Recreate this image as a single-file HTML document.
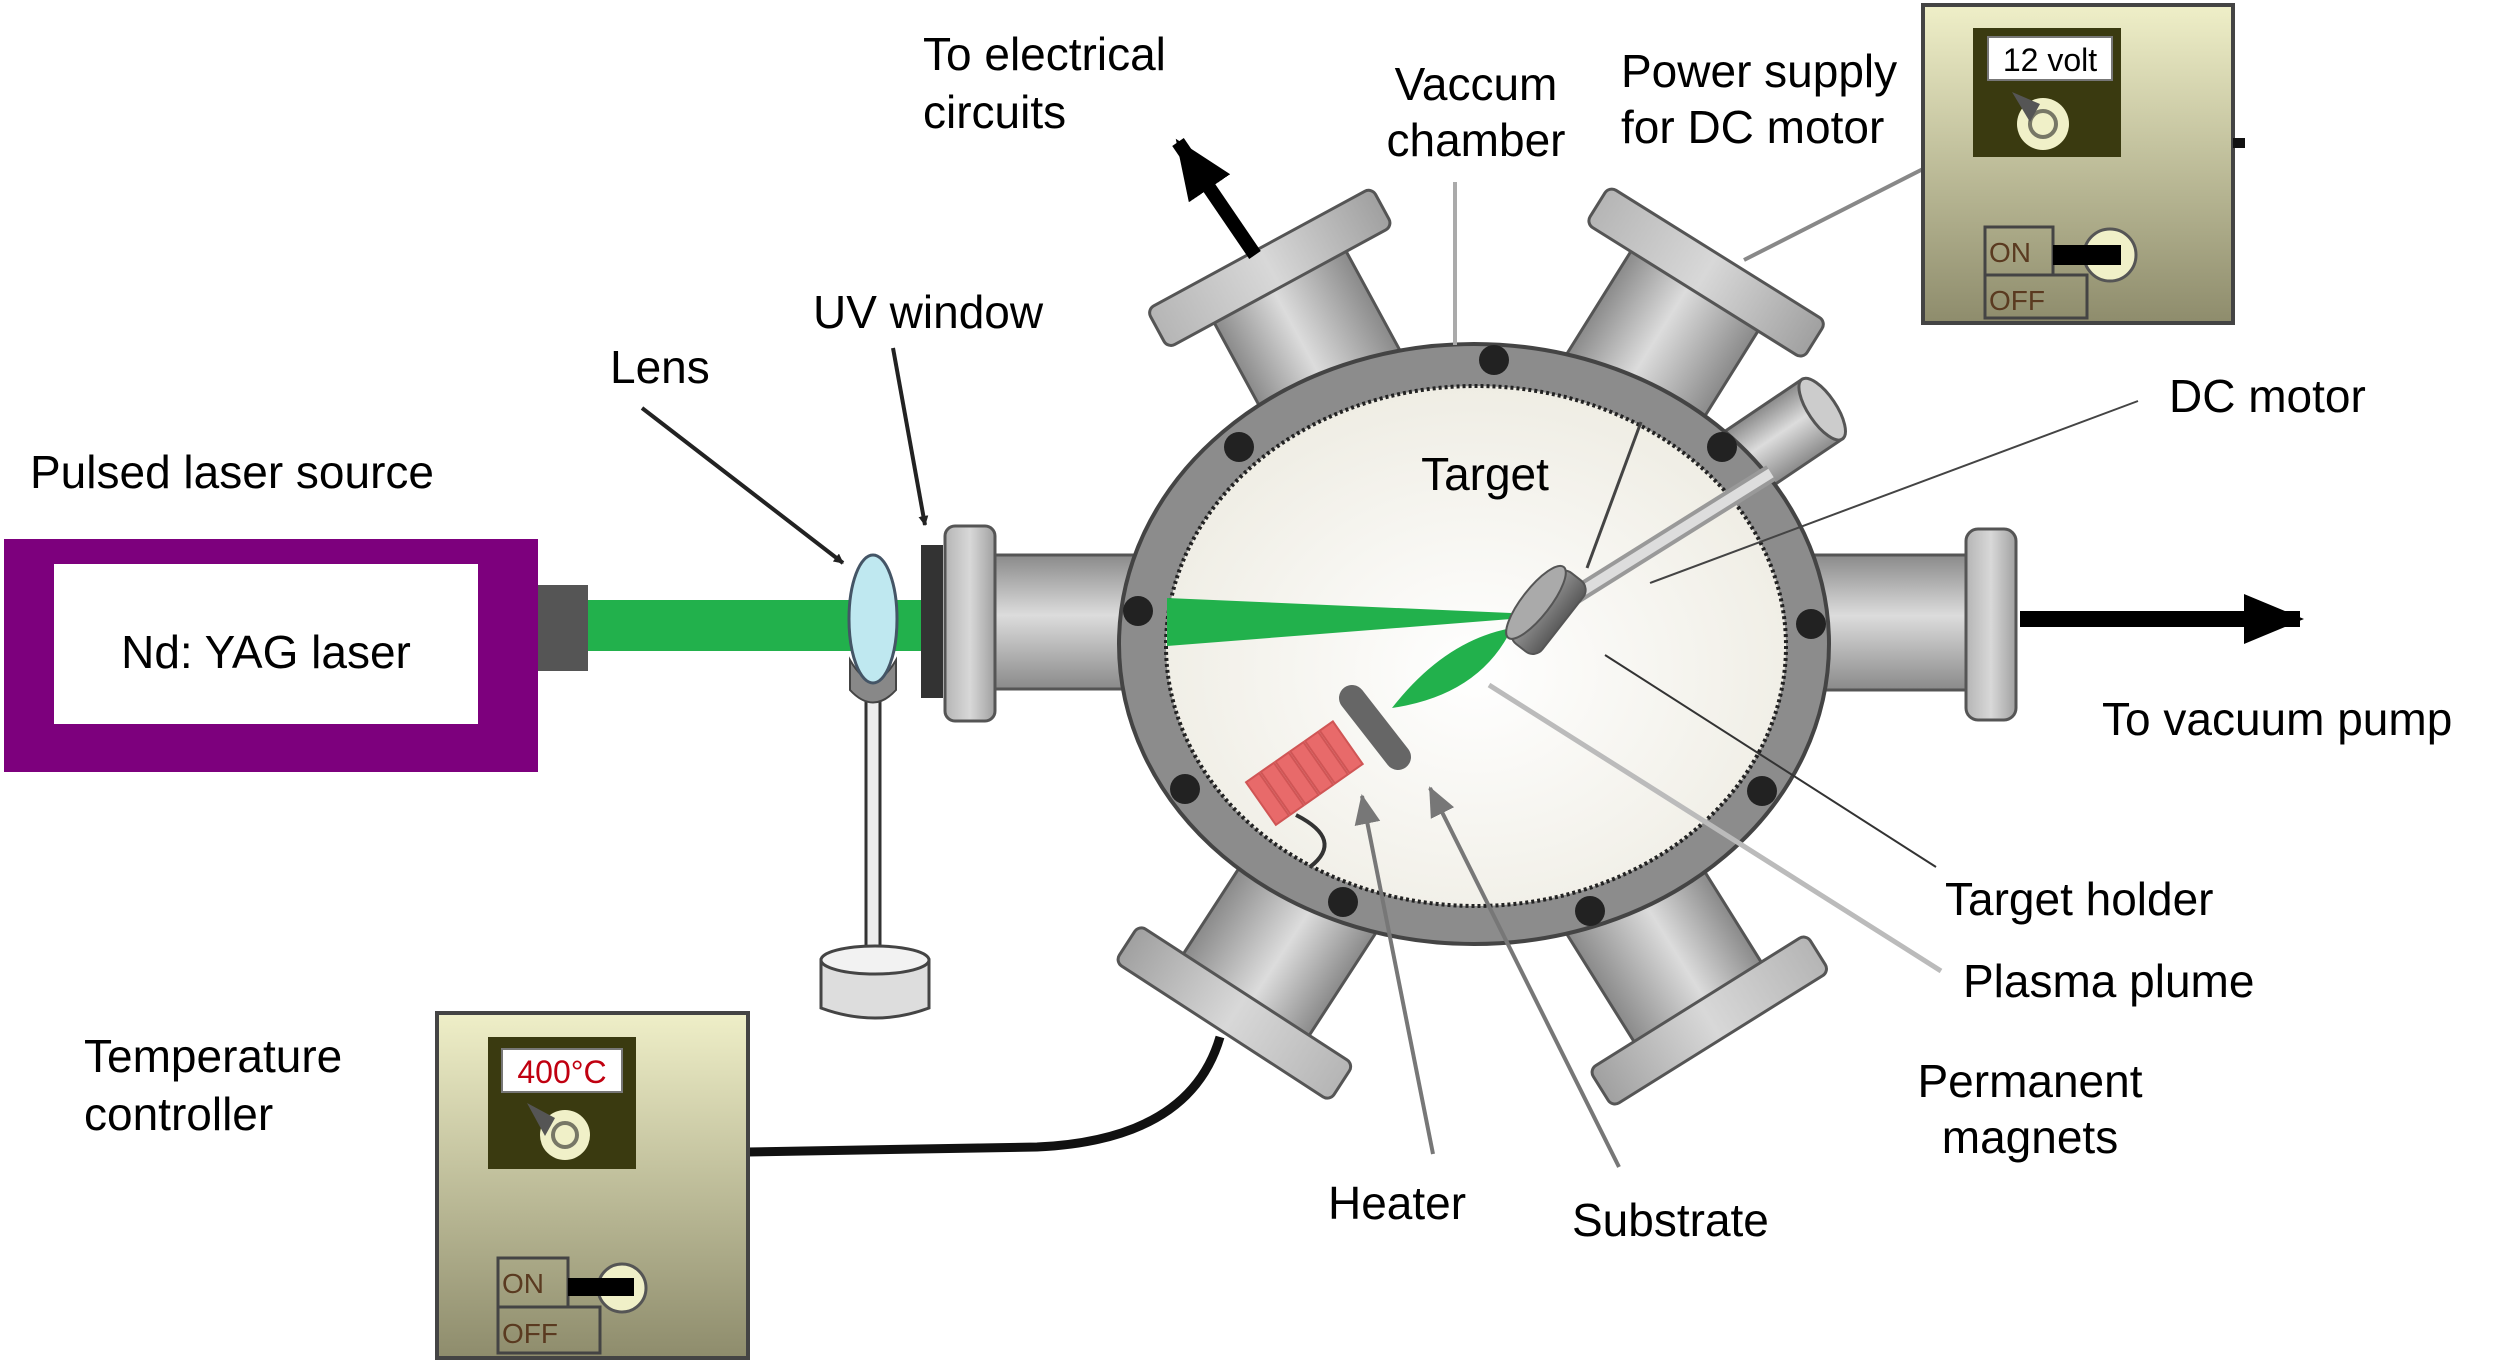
<!DOCTYPE html>
<html><head><meta charset="utf-8"><style>
html,body{margin:0;padding:0;background:#fff;}
svg{display:block;}
text{font-family:"Liberation Sans",Arial,sans-serif;fill:#000;}
</style></head><body>
<svg width="2502" height="1360" viewBox="0 0 2502 1360" xmlns="http://www.w3.org/2000/svg">
<defs>
<linearGradient id="tube" x1="0" x2="1" y1="0" y2="0">
<stop offset="0" stop-color="#8a8a8a"/><stop offset="0.45" stop-color="#dcdcdc"/><stop offset="1" stop-color="#8a8a8a"/></linearGradient>
<linearGradient id="tubeH" x1="0" x2="0" y1="0" y2="1">
<stop offset="0" stop-color="#8a8a8a"/><stop offset="0.45" stop-color="#dcdcdc"/><stop offset="1" stop-color="#8a8a8a"/></linearGradient>
<linearGradient id="fl" x1="0" x2="1"><stop offset="0" stop-color="#b5b5b5"/><stop offset="0.5" stop-color="#d8d8d8"/><stop offset="1" stop-color="#a0a0a0"/></linearGradient>
<radialGradient id="inner" cx="0.5" cy="0.55" r="0.55"><stop offset="0" stop-color="#ffffff"/><stop offset="1" stop-color="#efede4"/></radialGradient>
<linearGradient id="box" x1="0" x2="0" y1="0" y2="1"><stop offset="0" stop-color="#efefc8"/><stop offset="1" stop-color="#8e8c6c"/></linearGradient>
<linearGradient id="disk" x1="0" x2="1"><stop offset="0" stop-color="#9a9a9a"/><stop offset="1" stop-color="#5a5a5a"/></linearGradient>
<marker id="ah" markerWidth="10" markerHeight="10" refX="9" refY="5" orient="auto" markerUnits="userSpaceOnUse" viewBox="0 0 10 10"><path d="M0,0 L10,5 L0,10z" fill="#222"/></marker>
<marker id="ahg" markerWidth="30" markerHeight="30" refX="28" refY="15" orient="auto" markerUnits="userSpaceOnUse" viewBox="0 0 30 30"><path d="M0,2 L30,15 L0,28z" fill="#777"/></marker>
<marker id="ahb" markerWidth="60" markerHeight="50" refX="56" refY="25" orient="auto" markerUnits="userSpaceOnUse" viewBox="0 0 60 50"><path d="M0,0 L60,25 L0,50z" fill="#000"/></marker>
</defs>

<!-- laser -->
<rect x="4" y="539" width="534" height="233" fill="#7d007d"/>
<rect x="54" y="564" width="424" height="160" fill="#fff"/>
<text x="266" y="668" font-size="46" text-anchor="middle">Nd: YAG laser</text>
<rect x="538" y="585" width="50" height="86" fill="#555"/>
<rect x="588" y="600" width="345" height="51" fill="#22b14c"/>

<!-- lens stand -->
<rect x="866" y="680" width="14" height="280" fill="#eee" stroke="#333" stroke-width="3"/>
<path d="M850,660 Q873,700 896,660 L896,690 Q873,715 850,690z" fill="#888" stroke="#444" stroke-width="2"/>
<path d="M821,960 L821,1008 Q875,1028 929,1008 L929,960z" fill="#ddd" stroke="#444" stroke-width="3"/>
<ellipse cx="875" cy="960" rx="54" ry="14" fill="#f2f2f2" stroke="#444" stroke-width="3"/>
<ellipse cx="873" cy="619" rx="24" ry="64" fill="#bfe8f0" stroke="#456" stroke-width="3"/>

<!-- left port -->
<rect x="993" y="555" width="170" height="134" fill="url(#tubeH)" stroke="#555" stroke-width="3"/>
<rect x="945" y="526" width="50" height="195" rx="10" fill="url(#fl)" stroke="#555" stroke-width="3"/>
<rect x="921" y="545" width="22" height="153" fill="#333"/>
<!-- right port -->
<rect x="1790" y="555" width="180" height="135" fill="url(#tubeH)" stroke="#555" stroke-width="3"/>
<rect x="1966" y="529" width="50" height="191" rx="12" fill="url(#fl)" stroke="#555" stroke-width="3"/>
<line x1="2020" y1="619" x2="2300" y2="619" stroke="#000" stroke-width="16" marker-end="url(#ahb)"/>

<!-- angled ports -->
<g transform="translate(1474,644) rotate(-28.5)">
<rect x="-75" y="-410" width="150" height="300" fill="url(#tube)" stroke="#555" stroke-width="3"/>
<rect x="-128" y="-450" width="256" height="44" rx="8" fill="url(#fl)" stroke="#555" stroke-width="3"/></g>
<g transform="translate(1474,644) rotate(32)">
<rect x="-75" y="-420" width="150" height="300" fill="url(#tube)" stroke="#555" stroke-width="3"/>
<rect x="-128" y="-460" width="256" height="44" rx="8" fill="url(#fl)" stroke="#555" stroke-width="3"/></g>
<g transform="translate(1474,644) rotate(-147)">
<rect x="-75" y="-420" width="150" height="300" fill="url(#tube)" stroke="#555" stroke-width="3"/>
<rect x="-128" y="-462" width="256" height="44" rx="8" fill="url(#fl)" stroke="#555" stroke-width="3"/></g>
<g transform="translate(1474,644) rotate(148)">
<rect x="-75" y="-425" width="150" height="300" fill="url(#tube)" stroke="#555" stroke-width="3"/>
<rect x="-128" y="-466" width="256" height="44" rx="8" fill="url(#fl)" stroke="#555" stroke-width="3"/></g>
<g transform="translate(1474,644) rotate(56)">
<rect x="-36" y="-420" width="72" height="150" fill="url(#tube)" stroke="#555" stroke-width="3"/>
<ellipse cx="0" cy="-420" rx="36" ry="14" fill="#ccc" stroke="#555" stroke-width="3"/></g>

<!-- electrical arrow -->
<line x1="1255" y1="255" x2="1178" y2="142" stroke="#000" stroke-width="14" marker-end="url(#ahb)"/>

<!-- chamber -->
<ellipse cx="1474" cy="644" rx="355" ry="300" fill="#8c8c8c" stroke="#444" stroke-width="4"/>
<ellipse cx="1476" cy="646" rx="310" ry="260" fill="url(#inner)" stroke="#222" stroke-width="4" stroke-dasharray="3 3"/>
<g fill="#222">
<circle cx="1494" cy="360" r="15"/><circle cx="1239" cy="447" r="15"/><circle cx="1722" cy="447" r="15"/>
<circle cx="1138" cy="611" r="15"/><circle cx="1811" cy="624" r="15"/><circle cx="1185" cy="789" r="15"/>
<circle cx="1762" cy="791" r="15"/><circle cx="1343" cy="902" r="15"/><circle cx="1590" cy="911" r="15"/></g>

<!-- inner parts -->
<path d="M1167,598 L1511,613 L1511,619 L1167,646z" fill="#22b14c"/>
<path d="M1392,708 Q1445,640 1512,628 Q1480,695 1392,708z" fill="#22b14c"/>
<line x1="1560" y1="605" x2="1771" y2="473" stroke="#999" stroke-width="18"/>
<line x1="1560" y1="605" x2="1771" y2="473" stroke="#ddd" stroke-width="10"/>
<g transform="translate(1547,611) rotate(38)">
<rect x="-16" y="-45" width="36" height="90" rx="12" fill="url(#disk)" stroke="#555" stroke-width="2"/>
<ellipse cx="-14" cy="0" rx="14" ry="45" fill="#aaa" stroke="#555" stroke-width="2"/></g>
<line x1="1352" y1="698" x2="1398" y2="757" stroke="#666" stroke-width="26" stroke-linecap="round"/>
<g transform="translate(1306,772) rotate(-35)" fill="#e86a6a" stroke="#d05555" stroke-width="2">
<rect x="-55" y="-26" width="16" height="52"/><rect x="-37" y="-26" width="16" height="52"/><rect x="-19" y="-26" width="16" height="52"/><rect x="-1" y="-26" width="16" height="52"/><rect x="17" y="-26" width="16" height="52"/><rect x="35" y="-26" width="16" height="52"/></g>
<path d="M1296,815 Q1345,840 1310,867" fill="none" stroke="#333" stroke-width="4"/>

<!-- pointer lines -->
<line x1="1455" y1="182" x2="1455" y2="345" stroke="#aaa" stroke-width="4"/>
<line x1="1923" y1="169" x2="1744" y2="260" stroke="#888" stroke-width="4"/>
<line x1="2138" y1="401" x2="1650" y2="583" stroke="#444" stroke-width="2"/>
<line x1="1641" y1="422" x2="1587" y2="568" stroke="#444" stroke-width="3"/>
<line x1="1936" y1="867" x2="1605" y2="655" stroke="#333" stroke-width="2"/>
<line x1="1941" y1="971" x2="1489" y2="685" stroke="#bbb" stroke-width="5"/>
<line x1="1433" y1="1154" x2="1362" y2="796" stroke="#777" stroke-width="4" marker-end="url(#ahg)"/>
<line x1="1619" y1="1167" x2="1430" y2="788" stroke="#777" stroke-width="4" marker-end="url(#ahg)"/>
<line x1="642" y1="408" x2="843" y2="563" stroke="#222" stroke-width="4" marker-end="url(#ah)"/>
<line x1="893" y1="348" x2="925" y2="525" stroke="#222" stroke-width="4" marker-end="url(#ah)"/>

<!-- power supply -->
<rect x="1923" y="5" width="310" height="318" fill="url(#box)" stroke="#444" stroke-width="4"/>
<rect x="2233" y="138" width="12" height="10" fill="#111"/>
<rect x="1973" y="28" width="148" height="129" fill="#3a3a10"/>
<rect x="1988" y="37" width="124" height="43" fill="#fff" stroke="#777" stroke-width="2"/>
<text x="2050" y="71" font-size="32" text-anchor="middle">12 volt</text>
<circle cx="2043" cy="124" r="26" fill="#f0f0c8"/><circle cx="2043" cy="124" r="13" fill="none" stroke="#776" stroke-width="4"/>
<path d="M2012,92 L2040,104 L2030,122z" fill="#555"/>
<rect x="1985" y="227" width="68" height="48" fill="none" stroke="#444" stroke-width="3"/>
<rect x="1985" y="275" width="102" height="43" fill="none" stroke="#444" stroke-width="3"/>
<text x="1989" y="262" font-size="28" style="fill:#5a3a20">ON</text>
<text x="1989" y="310" font-size="28" style="fill:#5a3a20">OFF</text>
<circle cx="2110" cy="255" r="26" fill="#f0f0c8" stroke="#555" stroke-width="3"/>
<rect x="2053" y="245" width="68" height="20" fill="#000"/>

<!-- temperature controller -->
<path d="M748,1152 L1037,1147 Q1190,1140 1220,1037" fill="none" stroke="#111" stroke-width="9"/>
<rect x="437" y="1013" width="311" height="345" fill="url(#box)" stroke="#444" stroke-width="4"/>
<rect x="488" y="1037" width="148" height="132" fill="#3a3a10"/>
<rect x="502" y="1049" width="120" height="43" fill="#fff" stroke="#777" stroke-width="2"/>
<text x="562" y="1083" font-size="32" text-anchor="middle" style="fill:#c00010">400°C</text>
<circle cx="565" cy="1135" r="25" fill="#f0f0c8"/><circle cx="565" cy="1135" r="12" fill="none" stroke="#776" stroke-width="4"/>
<path d="M527,1103 L555,1118 L545,1136z" fill="#555"/>
<rect x="498" y="1258" width="70" height="49" fill="none" stroke="#444" stroke-width="3"/>
<rect x="498" y="1307" width="102" height="46" fill="none" stroke="#444" stroke-width="3"/>
<text x="502" y="1293" font-size="28" style="fill:#5a3a20">ON</text>
<text x="502" y="1343" font-size="28" style="fill:#5a3a20">OFF</text>
<circle cx="622" cy="1288" r="24" fill="#f0f0c8" stroke="#555" stroke-width="3"/>
<rect x="568" y="1278" width="66" height="18" fill="#000"/>

<!-- labels -->
<g font-size="46">
<text x="30" y="488">Pulsed laser source</text>
<text x="610" y="383">Lens</text>
<text x="813" y="328">UV window</text>
<text x="923" y="70">To electrical</text>
<text x="923" y="128">circuits</text>
<text x="1476" y="100" text-anchor="middle">Vaccum</text>
<text x="1476" y="156" text-anchor="middle">chamber</text>
<text x="1621" y="87">Power supply</text>
<text x="1621" y="143">for DC motor</text>
<text x="2169" y="412">DC motor</text>
<text x="1485" y="490" text-anchor="middle">Target</text>
<text x="2102" y="735">To vacuum pump</text>
<text x="1945" y="915">Target holder</text>
<text x="1963" y="997">Plasma plume</text>
<text x="2030" y="1097" text-anchor="middle">Permanent</text>
<text x="2030" y="1153" text-anchor="middle">magnets</text>
<text x="1328" y="1219">Heater</text>
<text x="1572" y="1236">Substrate</text>
<text x="84" y="1072">Temperature</text>
<text x="84" y="1130">controller</text>
</g>
</svg>
</body></html>
